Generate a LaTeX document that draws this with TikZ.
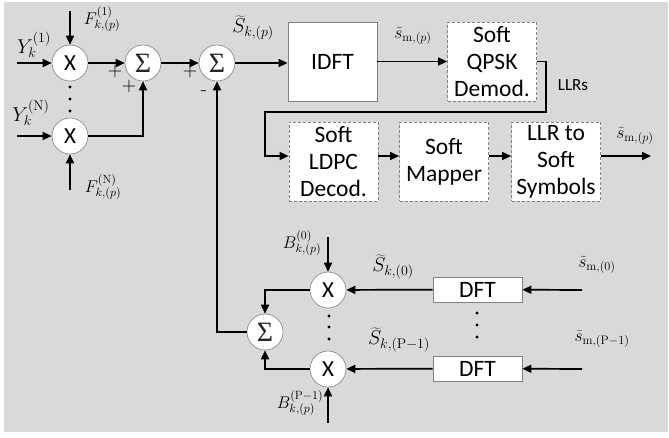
\RequirePackage{fix-cm}
\documentclass[tikz,border=0pt]{standalone}
\usepackage{fontspec}
\newfontfamily\boxfont{Carlito}
\newfontfamily\sigfont{Liberation Serif}
\usetikzlibrary{arrows.meta}
\definecolor{bg}{RGB}{217,217,217}
\definecolor{bord}{RGB}{128,128,128}
\tikzset{
  wire/.style={line width=1.7pt, black},
  arr/.style={wire, -{Triangle[length=9pt,width=8pt]}},
  circ/.style={circle, draw=bord, line width=0.6pt, fill=white, minimum size=36pt, inner sep=0pt},
  blk/.style={draw=bord, line width=0.8pt, fill=white, minimum width=89pt, minimum height=79pt, inner sep=0pt, align=center, font=\boxfont\fontsize{23.5}{27}\selectfont},
  dblk/.style={blk, dash pattern=on 3pt off 2pt},
  sblk/.style={blk, minimum height=25pt},
  mlab/.style={inner sep=0pt, font=\fontsize{20}{22}\selectfont},
  slab/.style={inner sep=0pt, font=\fontsize{17}{18}\selectfont},
  smlab/.style={inner sep=0pt, font=\fontsize{17.5}{20}\selectfont},
  sgn/.style={inner sep=0pt, font=\fontsize{20}{22}\selectfont},
  dotn/.style={circle, fill=black, inner sep=0pt, minimum size=3.2pt},
  xtxt/.style={font=\boxfont\fontsize{23}{24}\selectfont},
  stxt/.style={font=\sigfont\fontsize{28}{30}\selectfont, text=black!85}
}
\begin{document}
\begin{tikzpicture}[x=1pt,y=-1pt]
\useasboundingbox (0,0) rectangle (669,437);
\fill[bg] (4,2) rectangle (668,432);

% multipliers and sums
\node[circ, xtxt] (x1) at (70,63) {X};
\node[circ, xtxt] (xn) at (70,136) {X};
\node[circ, stxt] (s1) at (143,63) {Σ};
\node[circ, stxt] (s2) at (217,63) {Σ};
\node[circ, stxt] (s3) at (265,332) {Σ};
\node[circ, xtxt] (x0) at (328,290) {X};
\node[circ, xtxt] (xp) at (328,369) {X};

% blocks
\node[blk] (idft) at (332.5,61.5) {IDFT};
\node[dblk] (qpsk) at (492,61.5) {Soft\\QPSK\\Demod.};
\node[dblk] (ldpc) at (333.5,161.5) {Soft\\LDPC\\Decod.};
\node[dblk] (map) at (444,161.5) {Soft\\Mapper};
\node[dblk] (llr) at (556,161.5) {LLR to\\Soft\\Symbols};
\node[sblk] (dft0) at (477.5,289.5) {DFT};
\node[sblk] (dftp) at (477.5,368.5) {DFT};

% free ends
\coordinate (y1in) at (17,63);
\coordinate (ynin) at (17,136);
\coordinate (f1in) at (70,11);
\coordinate (fnin) at (70,190);
\coordinate (b0in) at (328,237);
\coordinate (bpin) at (328,423);
\coordinate (sm0in) at (582,290);
\coordinate (smpin) at (582,369);
\coordinate (out) at (651,156);
\coordinate (fbr) at (546,112);
\coordinate (fbl) at (265,112);

% connectors
\draw[arr] (y1in) -- (x1);
\draw[arr] (ynin) -- (xn);
\draw[arr] (f1in) -- (x1);
\draw[arr] (fnin) -- (xn);
\draw[arr] (x1) -- (s1);
\draw[arr] (xn.east) -| (s1.south);
\draw[arr] (s1) -- (s2);
\draw[arr] (s2) -- (idft.west |- s2);
\draw[arr] (s3.west) -| (s2.south);
\draw[arr] (idft) -- (qpsk);
\draw[arr] (qpsk.east) -- (qpsk.east -| fbr) -- (fbr) -- (fbl) |- ([yshift=5.5pt]ldpc.west);
\draw[arr] ([yshift=5.5pt]ldpc.east) -- ([yshift=5.5pt]map.west);
\draw[arr] ([yshift=5.5pt]map.east) -- ([yshift=5.5pt]llr.west);
\draw[arr] ([yshift=5.5pt]llr.east) -- (out);
\draw[arr] (b0in) -- (x0);
\draw[arr] (bpin) -- (xp);
\draw[arr] (x0.west) -| (s3.north);
\draw[arr] (xp.west) -| (s3.south);
\draw[arr] (dft0) -- (x0);
\draw[arr] (dftp) -- (xp);
\draw[arr] (sm0in) -- (dft0);
\draw[arr] (smpin) -- (dftp);

% dots
\foreach \yy [count=\i] in {87,99,111} \node[dotn] (da\i) at (70,\yy) {};
\foreach \yy [count=\i] in {316,327,339} \node[dotn] (db\i) at (329,\yy) {};
\foreach \yy [count=\i] in {313,325,337} \node[dotn] (dc\i) at (477,\yy) {};

% labels
\node[mlab] (ly1) at (34,45) {$Y_k^{(1)}$};
\node[mlab] (lyn) at (31,113) {$Y_k^{(\mathrm{N})}$};
\node[slab] (lf1) at (102,19) {$F_{k,(p)}^{(1)}$};
\node[slab] (lfn) at (103,187) {$F_{k,(p)}^{(\mathrm{N})}$};
\node[mlab] (lsk) at (253,28) {$\widetilde{S}_{k,(p)}$};
\node[smlab] (lsm) at (413,36) {$\widetilde{s}_{\mathrm{m},(p)}$};
\node[inner sep=0pt, font=\boxfont\fontsize{17}{20}\selectfont] (lllr) at (573,85) {LLRs};
\node[smlab] (lsmo) at (635,136) {$\widetilde{s}_{\mathrm{m},(p)}$};
\node[slab] (lb0) at (302,243) {$B_{k,(p)}^{(0)}$};
\node[slab] (lbp) at (300,403) {$B_{k,(p)}^{(\mathrm{P}-1)}$};
\node[mlab] (lsk0) at (393,267) {$\widetilde{S}_{k,(0)}$};
\node[mlab] (lskp) at (399,340) {$\widetilde{S}_{k,(\mathrm{P}-1)}$};
\node[smlab] (lsm0) at (597,265) {$\widetilde{s}_{\mathrm{m},(0)}$};
\node[smlab] (lsmp) at (602,339) {$\widetilde{s}_{\mathrm{m},(\mathrm{P}-1)}$};

% signs
\node[sgn] (p1) at (115,72) {+};
\node[sgn] (p2) at (129,87) {+};
\node[sgn] (p3) at (190,72) {+};
\node[sgn] (m1) at (204,93) {-};
\end{tikzpicture}
\end{document}
